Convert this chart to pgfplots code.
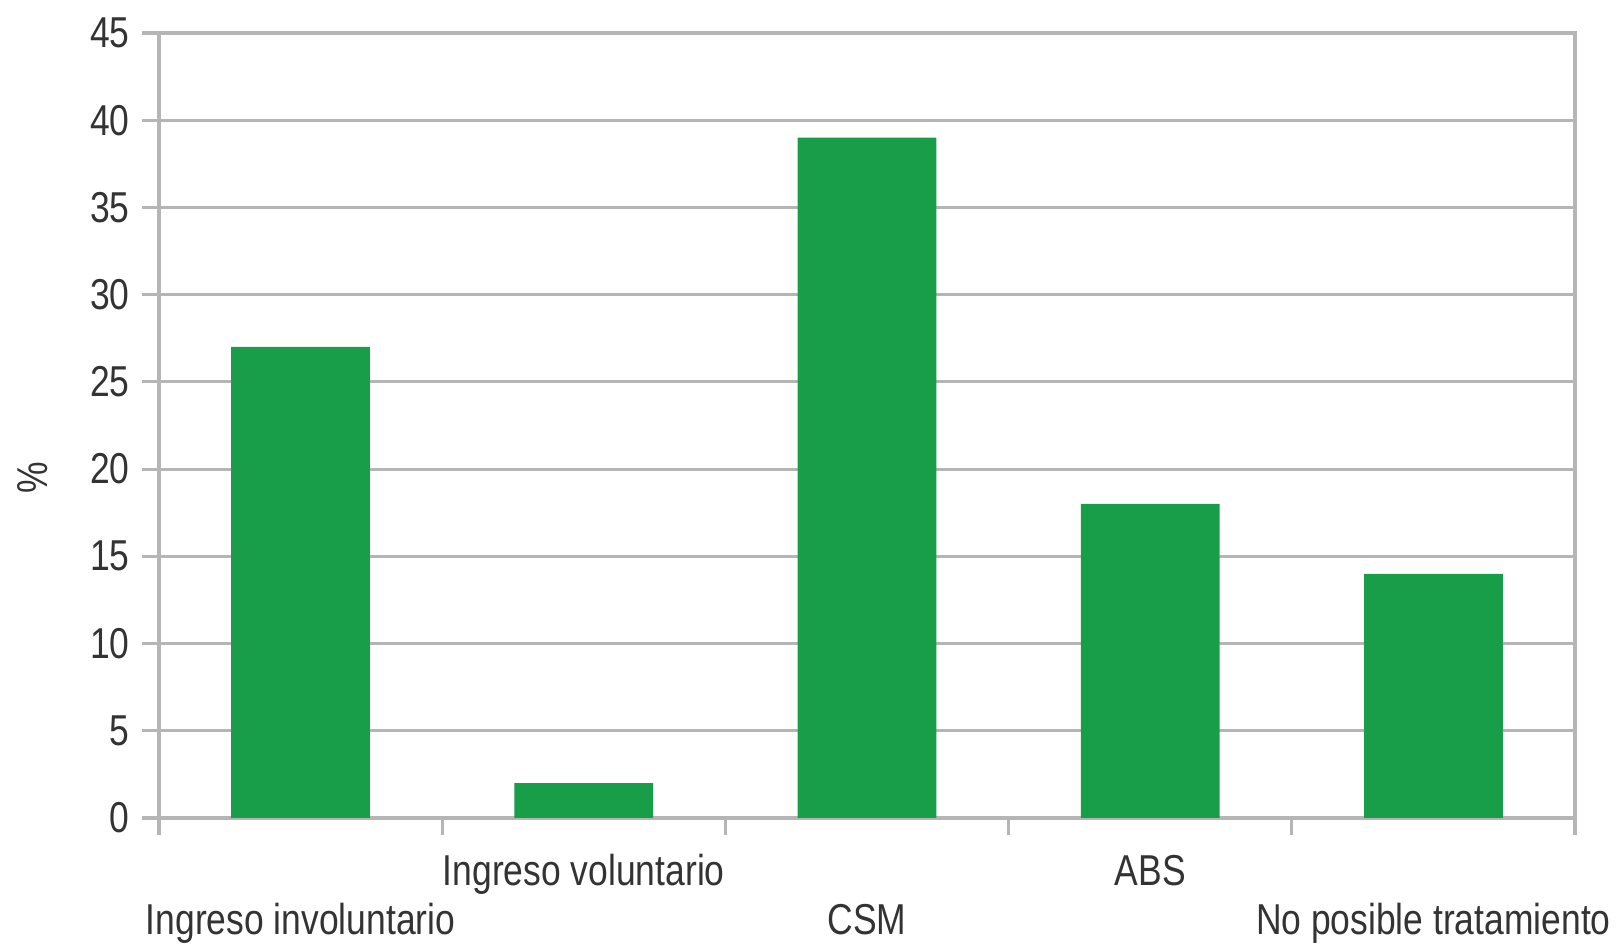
\documentclass[border=0pt]{standalone}
\usepackage{fontspec}
\setmainfont{Liberation Sans}[FakeStretch=0.82]
\usepackage{pgfplots}
\pgfplotsset{compat=1.18}
\definecolor{barg}{HTML}{189E48}
\definecolor{gridc}{HTML}{B5B5B5}
\definecolor{txt}{HTML}{333333}
\begin{document}
\begin{tikzpicture}
\useasboundingbox (0,0) rectangle (162.2mm,94.5mm);
\begin{axis}[
  at={(15.9mm,12.7mm)}, anchor=south west,
  scale only axis, width=141.6mm, height=78.5mm,
  xmin=-0.5, xmax=4.5, ymin=0, ymax=45,
  ybar, bar width=0.49,
  ytick={0,5,...,45},
  xtick={-0.5,0.5,...,4.5},
  x tick label as interval,
  xticklabels={{\strut\\\strut Ingreso involuntario},{\strut Ingreso voluntario},{\strut\\\strut CSM},{\strut ABS},{\strut\\\strut No posible tratamiento}},
  ymajorgrids, grid style={gridc, line width=0.9pt},
  axis line style={gridc, line width=0.9pt},
  tick align=outside, tick pos=left,
  major tick length=1.7mm,
  tick style={gridc, line width=0.9pt},
  xticklabel style={align=center, anchor=north, text=txt, font=\fontsize{12.3}{13.9}\selectfont, yshift=-0.4mm},
  yticklabel style={text=txt, font=\fontsize{12.3}{14}\selectfont, /pgf/number format/assume math mode=true},
  ylabel={\%},
  every axis y label/.style={at={(rel axis cs:0,0.433)}, xshift=-12.6mm, rotate=90, anchor=center, text=txt, font=\fontsize{12.3}{14}\selectfont},
]
\addplot[fill=barg, draw=none] coordinates {(0,27) (1,2) (2,39) (3,18) (4,14)};
\end{axis}
\end{tikzpicture}
\end{document}
